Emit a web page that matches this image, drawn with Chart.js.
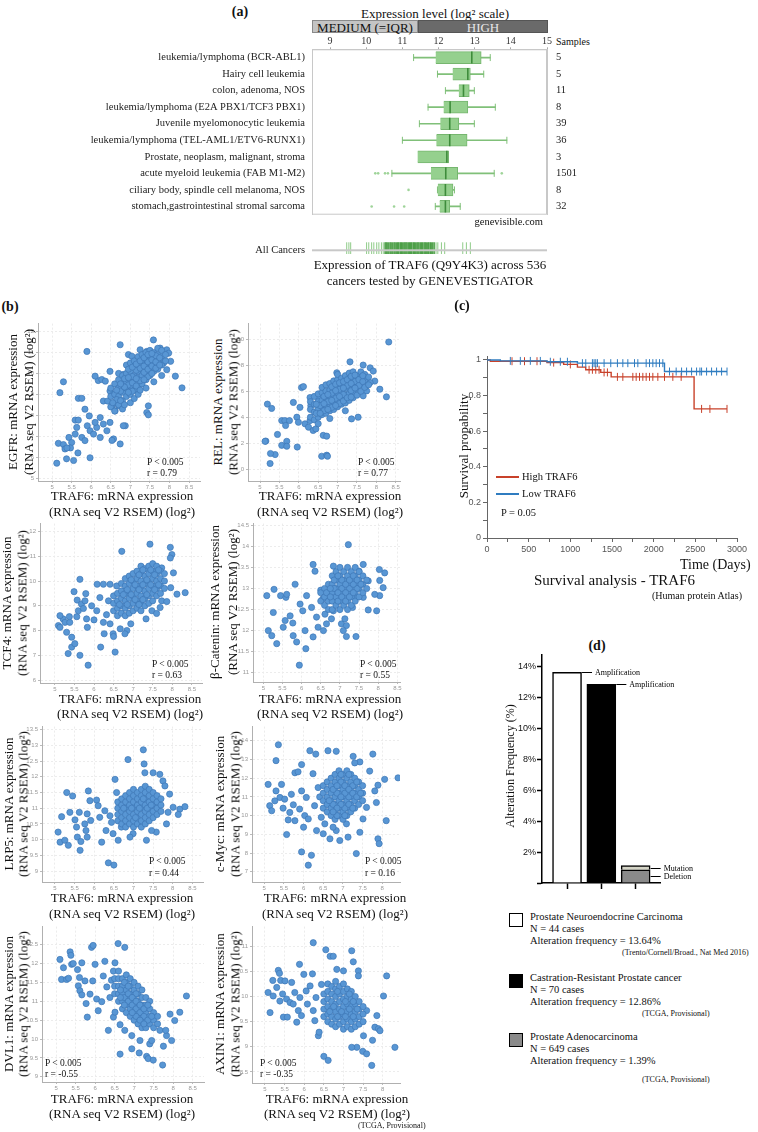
<!DOCTYPE html>
<html>
<head>
<meta charset="utf-8">
<script src="https://cdn.jsdelivr.net/npm/chart.js@4.4.1/dist/chart.umd.min.js"></script>
<style>
body { margin: 0; background: #fff; }
#page { position: relative; width: 758px; height: 1132px; overflow: hidden; font-family: 'Liberation Serif', 'Times New Roman', serif; color: #111; }
.t { position: absolute; white-space: nowrap; line-height: 1; }
canvas { position: absolute; }
.sw { position: absolute; border: 1.5px solid #000; box-sizing: border-box; }
</style>
</head>
<body>
<div id="page"></div>
<script>
// (a) expression by cancer type (log2)
var cancerTypes = ['leukemia/lymphoma (BCR-ABL1)', 'Hairy cell leukemia', 'colon, adenoma, NOS',
  'leukemia/lymphoma (E2A PBX1/TCF3 PBX1)', 'Juvenile myelomonocytic leukemia',
  'leukemia/lymphoma (TEL-AML1/ETV6-RUNX1)', 'Prostate, neoplasm, malignant, stroma',
  'acute myeloid leukemia (FAB M1-M2)', 'ciliary body, spindle cell melanoma, NOS',
  'stomach,gastrointestinal stromal sarcoma'];
var sampleCounts = [5, 5, 11, 8, 39, 36, 3, 1501, 8, 32];
var boxLow = [11.92, 12.39, 12.56, 12.14, 12.05, 11.94, 11.42, 11.79, 11.98, 12.03];
var boxHigh = [13.18, 12.88, 12.85, 12.81, 12.56, 12.79, 12.28, 12.53, 12.40, 12.31];
var medians = [12.92, 12.81, 12.69, 12.32, 12.31, 12.31, 12.23, 12.20, 12.19, 12.19];
var whiskLow = [11.31, 11.97, 12.19, 11.71, 11.47, 11.00, null, 10.71, 11.97, 11.91];
var whiskHigh = [13.43, 13.25, 12.99, 13.57, 12.99, 13.89, null, 13.54, 12.44, 12.60];
var outliers = [[7, 10.25], [7, 10.33], [7, 10.52], [7, 10.60], [7, 13.75], [8, 11.17], [9, 10.15], [9, 10.77], [9, 11.05]];
var allCancersDense = [10.52, 10.55, 10.58, 10.62, 10.66, 10.69, 10.73, 10.77, 10.8, 10.84, 10.87, 10.9, 10.94, 10.97,
  11.0, 11.04, 11.07, 11.1, 11.13, 11.17, 11.2, 11.23, 11.26, 11.3, 11.33, 11.36, 11.4, 11.43, 11.46, 11.5,
  11.53, 11.56, 11.6, 11.63, 11.66, 11.7, 11.73, 11.77, 11.8, 11.84, 11.88];
var allCancersSparse = [9.46, 9.52, 9.57, 10.01, 10.07, 10.15, 10.21, 10.29, 10.35, 10.42, 10.47, 11.93, 11.98, 12.08, 12.17, 12.67, 12.77, 12.88];

// (b) TRAF6 (x) vs gene (y), log2 RSEM
var egfrPts = [[5.16,6.66],[5.29,6.6],[5.33,6.39],[5.29,9.6],[5.2,9.08],[5.12,5.71],[5.37,5.92],[5.55,5.84],[5.66,6.2],[5.43,6.94],
  [5.5,6.7],[5.59,7.1],[5.63,7.42],[5.59,7.77],[5.67,7.77],[5.67,8.81],[5.76,8.81],[5.89,11.05],[5.76,6.94],[5.84,6.79],
  [5.84,8.29],[5.95,7.97],[5.9,7.5],[5.97,7.26],[6.06,7.1],[6.14,7.42],[6.23,6.94],[6.1,7.66],[6.23,7.89],[6.31,7.58],
  [6.4,7.26],[6.48,7.66],[6.18,9.66],[6.1,9.87],[6.27,9.71],[6.36,9.63],[6.31,8.68],[6.42,8.68],[6.48,10.1],[6.48,9.16],
  [6.57,9.0],[6.53,8.45],[6.61,8.21],[6.7,8.45],[6.74,6.63],[6.57,6.87],[6.74,11.37],[6.87,7.5],[6.82,9.95],[6.95,10.9],
  [7.04,10.82],[7.25,11.13],[7.42,11.05],[7.59,11.6],[7.76,11.21],[7.93,11.13],[7.98,10.97],[8.03,10.58],[7.85,10.5],[7.93,10.18],
  [8.15,9.87],[8.32,9.31],[7.42,8.13],[7.46,8.02],[7.46,8.45],[6.82,7.5],[5.47,6.44],[5.38,6.44],[6.53,6.8],[5.97,5.97],
  [6.5,8.4],[6.5,8.9],[6.5,9.3],[6.6,8.2],[6.6,8.6],[6.6,9.0],[6.6,9.5],[6.7,8.5],[6.7,8.9],[6.7,9.3],[6.7,9.7],[6.7,10.0],
  [6.8,8.3],[6.8,8.7],[6.8,9.1],[6.8,9.5],[6.8,9.9],[6.9,8.9],[6.9,9.3],[6.9,9.6],[6.9,10.0],[6.9,10.4],
  [7.0,8.6],[7.0,9.0],[7.0,9.4],[7.0,9.7],[7.0,10.1],[7.0,10.5],[7.1,8.8],[7.1,9.2],[7.1,9.6],[7.1,9.9],[7.1,10.3],[7.1,10.6],
  [7.2,9.0],[7.2,9.4],[7.2,9.8],[7.2,10.1],[7.2,10.4],[7.2,10.8],[7.3,9.5],[7.3,9.9],[7.3,10.2],[7.3,10.6],[7.3,10.9],
  [7.4,9.3],[7.4,9.7],[7.4,10.0],[7.4,10.4],[7.4,10.7],[7.4,11.0],[7.5,9.9],[7.5,10.2],[7.5,10.5],[7.5,10.8],[7.5,11.1],
  [7.6,9.6],[7.6,10.1],[7.6,10.4],[7.6,10.7],[7.6,11.0],[7.7,10.2],[7.7,10.6],[7.7,10.9],[7.7,11.2],[7.8,9.9],[7.8,10.4],
  [7.8,10.8],[7.8,11.1],[7.9,10.6],[7.9,10.9],[6.65,8.75],[6.75,9.15],[6.85,9.75],[6.95,9.45],[7.05,9.85],[7.15,10.15],
  [7.25,10.25],[7.35,10.35],[7.45,10.55],[7.55,10.65],[7.65,10.85],[7.05,9.15],[7.25,9.65],[7.45,9.85],[6.85,9.35],
  [6.75,8.7],[6.75,9.5],[6.85,8.5],[6.95,9.8],[6.95,10.2],[7.05,9.55],[7.05,10.3],[7.15,9.4],[7.15,9.75],[7.15,10.45],
  [7.25,9.2],[7.25,10.6],[7.35,9.7],[7.35,10.05],[7.35,10.75],[7.45,10.2],[7.45,10.9],[7.55,10.0],[7.55,10.35],[7.55,10.95],
  [7.65,10.25],[7.65,10.55],[7.75,10.4],[7.75,10.75],[6.95,9.1],[6.65,9.2],[6.55,8.6]];
var relPts = [[5.19,5.01],[5.3,4.68],[5.15,2.16],[5.39,1.12],[5.26,0.43],[5.56,3.74],[5.64,3.74],[5.76,3.74],[5.66,3.36],[5.45,2.67],
  [5.56,1.83],[5.69,2.14],[5.96,1.7],[5.86,5.14],[6.07,6.29],[6.12,6.36],[6.03,4.76],[5.95,4.0],[5.99,3.61],[6.16,3.49],
  [6.25,3.23],[6.29,3.74],[6.37,2.98],[6.44,3.1],[6.59,0.99],[6.72,1.07],[6.63,2.6],[6.72,2.54],[6.5,5.52],[6.29,5.52],
  [6.31,4.89],[6.98,7.43],[7.32,8.27],[7.66,8.02],[7.84,7.81],[7.92,7.56],[7.96,6.79],[8.09,6.16],[7.84,6.67],[7.75,6.03],
  [7.66,5.65],[8.32,9.8],[8.26,5.57],[7.53,4.0],[7.36,3.87],[5.13,2.14],[5.27,1.2],[5.69,1.76],[6.74,0.99],
  [6.3,4.0],[6.3,4.6],[6.3,5.2],[6.4,3.8],[6.4,4.4],[6.4,5.0],[6.4,5.6],[6.5,3.5],[6.5,4.0],[6.5,4.6],[6.5,5.2],[6.5,5.8],
  [6.6,4.2],[6.6,4.8],[6.6,5.3],[6.6,5.9],[6.6,6.3],[6.7,4.3],[6.7,4.9],[6.7,5.5],[6.7,6.0],[6.7,6.5],
  [6.8,3.9],[6.8,4.5],[6.8,5.0],[6.8,5.6],[6.8,6.1],[6.8,6.6],[6.9,4.6],[6.9,5.2],[6.9,5.7],[6.9,6.3],[6.9,6.8],
  [7.0,4.8],[7.0,5.3],[7.0,5.9],[7.0,6.4],[7.0,6.9],[7.0,7.3],[7.1,5.0],[7.1,5.5],[7.1,6.0],[7.1,6.5],[7.1,7.0],
  [7.2,4.5],[7.2,5.1],[7.2,5.7],[7.2,6.2],[7.2,6.7],[7.2,7.2],[7.3,5.3],[7.3,5.8],[7.3,6.3],[7.3,6.9],[7.3,7.4],
  [7.4,5.5],[7.4,6.0],[7.4,6.5],[7.4,7.0],[7.4,7.5],[7.5,5.7],[7.5,6.2],[7.5,6.7],[7.5,7.2],[7.6,6.0],[7.6,6.5],[7.6,7.0],[7.6,7.5],
  [7.7,6.3],[7.7,6.8],[7.7,7.3],[7.8,6.5],[7.8,7.1],[6.45,4.3],[6.55,4.9],[6.65,5.6],[6.75,5.2],[6.85,5.85],[6.95,5.45],
  [7.05,6.15],[7.15,5.75],[7.25,6.45],[7.35,6.05],[7.45,6.75],[7.55,6.45],[6.85,4.75],[7.05,5.05],[6.65,4.5],
  [6.45,5.0],[6.55,4.3],[6.65,5.05],[6.75,4.6],[6.75,5.75],[6.85,5.3],[6.85,6.35],[6.95,4.9],[6.95,6.05],[6.95,6.55],
  [7.05,5.6],[7.05,6.65],[7.15,5.25],[7.15,6.25],[7.15,6.75],[7.25,5.5],[7.25,6.9],[7.35,5.55],[7.35,6.6],[7.35,7.15],
  [7.45,6.25],[7.45,7.25],[7.55,6.9],[7.65,6.75],[7.65,7.2]];
var tcf4Pts = [[5.09,8.2],[5.13,8.13],[5.21,8.47],[5.26,8.33],[5.13,8.6],[5.34,7.07],[5.3,7.93],[5.43,7.73],[5.43,7.33],[5.51,7.47],
  [5.38,8.33],[5.37,8.56],[5.49,9.57],[5.57,9.23],[5.56,8.56],[5.64,7.0],[5.64,10.07],[5.6,8.8],[5.68,9.07],[5.73,8.89],
  [5.81,8.47],[5.83,8.13],[5.77,9.2],[5.79,9.49],[5.85,6.6],[5.94,9.0],[6.0,8.43],[6.07,8.8],[6.15,9.33],[6.17,7.33],
  [6.24,8.33],[6.26,7.87],[6.08,9.87],[6.37,9.2],[6.32,8.64],[6.41,8.27],[6.49,7.87],[6.5,7.76],[6.54,7.13],[6.67,8.07],
  [6.71,11.2],[6.58,9.8],[6.41,9.87],[6.24,9.87],[6.84,8.0],[6.79,7.87],[6.94,8.27],[7.33,8.47],[7.48,8.8],[7.6,8.69],
  [7.69,8.93],[7.73,9.2],[7.95,11.36],[7.99,11.07],[7.95,10.93],[7.43,11.49],[7.73,10.53],[8.03,10.33],[8.12,9.47],[8.33,9.53],
  [7.96,9.73],[7.86,9.17],
  [6.5,8.8],[6.5,9.1],[6.5,9.4],[6.6,8.6],[6.6,8.9],[6.6,9.2],[6.6,9.5],[6.7,8.7],[6.7,9.0],[6.7,9.3],[6.7,9.6],[6.7,9.9],
  [6.8,8.6],[6.8,8.9],[6.8,9.2],[6.8,9.5],[6.8,9.8],[6.8,10.1],[6.9,8.7],[6.9,9.0],[6.9,9.3],[6.9,9.6],[6.9,9.9],[6.9,10.2],
  [7.0,8.8],[7.0,9.1],[7.0,9.4],[7.0,9.7],[7.0,10.0],[7.0,10.3],[7.1,8.9],[7.1,9.2],[7.1,9.5],[7.1,9.8],[7.1,10.1],[7.1,10.4],
  [7.2,8.8],[7.2,9.1],[7.2,9.4],[7.2,9.7],[7.2,10.0],[7.2,10.3],[7.2,10.6],[7.3,9.0],[7.3,9.3],[7.3,9.6],[7.3,9.9],[7.3,10.2],[7.3,10.5],
  [7.4,9.1],[7.4,9.4],[7.4,9.7],[7.4,10.0],[7.4,10.3],[7.4,10.6],[7.5,9.2],[7.5,9.5],[7.5,9.8],[7.5,10.1],[7.5,10.4],[7.5,10.7],
  [7.6,9.4],[7.6,9.7],[7.6,10.0],[7.6,10.3],[7.6,10.6],[7.7,9.5],[7.7,9.8],[7.7,10.1],[7.7,10.4],[7.8,9.7],[7.8,10.0],[7.8,10.3],
  [6.65,9.05],[6.75,9.45],[6.85,9.05],[6.85,9.65],[6.95,9.45],[6.95,10.05],[7.05,9.25],[7.05,9.85],[7.15,9.05],[7.15,9.65],
  [7.15,10.25],[7.25,9.25],[7.25,9.85],[7.25,10.45],[7.35,9.45],[7.35,10.05],[7.45,9.85],[7.45,10.45],[7.55,9.65],[7.55,10.25],
  [7.65,9.85],[7.65,10.45]];
var ctnnbPts = [[5.09,12.83],[5.13,12.0],[5.22,11.88],[5.35,11.69],[5.26,12.43],[5.28,12.98],[5.45,12.83],[5.52,12.08],[5.57,12.24],[5.59,12.79],
  [5.61,12.86],[5.7,12.35],[5.77,12.18],[5.78,11.88],[5.83,13.1],[5.87,11.73],[5.94,11.18],[5.96,12.63],[6.03,12.47],[6.09,12.0],
  [6.11,11.57],[6.13,12.83],[6.26,12.55],[6.3,11.85],[6.3,13.57],[6.35,13.41],[6.39,12.32],[6.43,12.08],[6.5,12.96],[6.55,12.75],
  [6.57,12.0],[6.61,12.39],[6.65,12.16],[6.78,12.28],[6.74,12.71],[6.83,12.47],[7.04,12.16],[7.13,12.28],[7.17,12.12],[7.09,12.0],
  [7.17,11.86],[7.42,11.86],[7.33,12.55],[7.43,12.79],[7.74,12.49],[7.61,12.79],[7.96,12.47],[8.04,12.83],[8.04,13.19],[8.13,13.02],
  [8.17,13.37],[8.03,13.45],[7.22,14.04],[7.5,13.41],[7.61,13.57],[7.74,13.18],[7.91,12.86],[6.83,13.53],
  [6.5,12.7],[6.5,12.9],[6.6,12.6],[6.6,12.8],[6.6,13.0],[6.7,12.5],[6.7,12.7],[6.7,12.9],[6.7,13.1],
  [6.8,12.5],[6.8,12.7],[6.8,12.9],[6.8,13.1],[6.8,13.3],[6.9,12.6],[6.9,12.8],[6.9,13.0],[6.9,13.2],[6.9,13.4],
  [7.0,12.5],[7.0,12.7],[7.0,12.9],[7.0,13.1],[7.0,13.3],[7.0,13.5],[7.1,12.6],[7.1,12.8],[7.1,13.0],[7.1,13.2],[7.1,13.4],
  [7.2,12.5],[7.2,12.7],[7.2,12.9],[7.2,13.1],[7.2,13.3],[7.2,13.5],[7.3,12.6],[7.3,12.8],[7.3,13.0],[7.3,13.2],[7.3,13.4],
  [7.4,12.7],[7.4,12.9],[7.4,13.1],[7.4,13.3],[7.4,13.5],[7.5,12.8],[7.5,13.0],[7.5,13.2],[7.5,13.4],[7.6,12.9],[7.6,13.1],[7.6,13.3],
  [7.7,13.0],[7.7,13.2],[6.65,12.9],[6.85,13.0],[7.05,13.0],[7.25,13.0],[7.45,13.0],[6.95,12.7],[7.15,12.9],[7.35,13.1],
  [6.75,12.8],[6.85,13.2],[6.95,12.9],[7.05,12.8],[7.05,13.2],[7.15,12.7],[7.15,13.1],[7.25,12.8],[7.25,13.2],[7.35,12.9],
  [7.35,13.3],[7.45,13.2],[7.55,13.1],[6.75,13.0],[6.95,13.3]];
var lrp5Pts = [[5.08,10.24],[5.13,9.92],[5.17,10.73],[5.25,9.98],[5.3,11.5],[5.34,9.82],[5.38,10.87],[5.45,11.39],[5.51,10.63],[5.55,10.4],
  [5.57,10.08],[5.62,10.87],[5.66,9.94],[5.64,9.66],[5.76,10.5],[5.79,10.29],[5.82,10.08],[5.85,11.55],[5.89,11.24],[5.91,10.61],
  [5.82,10.82],[6.06,11.26],[6.1,11.08],[6.14,10.71],[6.19,9.92],[6.27,10.92],[6.3,10.29],[6.4,10.76],[6.44,10.55],[6.48,10.19],
  [6.53,11.92],[6.36,9.26],[6.5,9.19],[6.61,9.98],[6.69,10.4],[6.86,12.55],[6.57,11.5],[7.25,12.86],[7.27,12.41],[7.29,12.13],
  [7.5,12.13],[7.67,12.08],[7.75,11.87],[7.8,11.71],[7.92,11.45],[8.01,11.03],[8.18,10.97],[8.31,11.05],[8.14,10.8],[7.88,10.87],
  [7.84,10.5],[7.58,10.24],[7.46,10.29],[7.33,9.98],[6.99,10.19],[6.91,10.08],
  [6.6,10.6],[6.6,10.8],[6.6,11.0],[6.6,11.2],[6.7,10.5],[6.7,10.7],[6.7,10.9],[6.7,11.1],[6.7,11.3],
  [6.8,10.4],[6.8,10.6],[6.8,10.8],[6.8,11.0],[6.8,11.2],[6.8,11.4],[6.9,10.5],[6.9,10.7],[6.9,10.9],[6.9,11.1],[6.9,11.3],[6.9,11.5],
  [7.0,10.4],[7.0,10.6],[7.0,10.8],[7.0,11.0],[7.0,11.2],[7.0,11.4],[7.0,11.6],[7.1,10.5],[7.1,10.7],[7.1,10.9],[7.1,11.1],[7.1,11.3],[7.1,11.5],
  [7.2,10.4],[7.2,10.6],[7.2,10.8],[7.2,11.0],[7.2,11.2],[7.2,11.4],[7.2,11.6],[7.3,10.5],[7.3,10.7],[7.3,10.9],[7.3,11.1],[7.3,11.3],[7.3,11.5],[7.3,11.7],
  [7.4,10.6],[7.4,10.8],[7.4,11.0],[7.4,11.2],[7.4,11.4],[7.4,11.6],[7.5,10.7],[7.5,10.9],[7.5,11.1],[7.5,11.3],[7.5,11.5],
  [7.6,10.8],[7.6,11.0],[7.6,11.2],[7.6,11.4],[7.7,10.9],[7.7,11.1],[7.7,11.3],
  [6.75,11.0],[6.95,11.0],[7.15,11.0],[7.35,11.0],[7.05,10.7],[7.25,11.3],[7.45,11.1]];
var mycPts = [[5.1,11.67],[5.14,10.53],[5.19,10.26],[5.27,10.79],[5.3,11.32],[5.36,13.79],[5.3,12.94],[5.44,11.67],[5.4,10.97],[5.48,10.4],
  [5.52,10.88],[5.57,8.99],[5.61,9.77],[5.65,10.17],[5.69,11.14],[5.74,10.58],[5.78,9.73],[5.78,12.29],[5.86,12.34],[5.9,10.35],
  [5.95,12.73],[5.95,11.32],[6.0,9.38],[5.95,8.06],[6.03,10.0],[6.07,10.97],[6.12,9.82],[6.16,13.47],[6.2,7.88],[6.24,12.24],
  [6.28,10.53],[6.31,13.29],[6.33,9.2],[6.37,11.5],[6.12,7.35],[6.41,11.0],[6.45,9.91],[6.5,9.03],[6.54,9.56],[6.62,13.47],
  [6.62,10.61],[6.67,8.76],[6.83,13.44],[6.92,8.67],[6.83,9.2],[7.13,8.85],[7.26,13.17],[7.43,12.87],[7.3,12.82],[7.34,7.97],
  [7.43,9.11],[7.68,12.38],[7.76,13.29],[7.81,11.32],[7.89,11.63],[7.89,8.76],[7.92,8.5],[8.06,11.94],[8.1,9.73],[8.4,12.02],
  [7.85,10.7],[7.6,10.44],[7.51,9.82],[6.75,9.38],[7.09,9.56],
  [6.5,10.4],[6.5,10.8],[6.5,11.2],[6.5,11.6],[6.6,10.2],[6.6,10.6],[6.6,11.0],[6.6,11.4],[6.6,11.8],
  [6.7,10.0],[6.7,10.4],[6.7,10.8],[6.7,11.2],[6.7,11.6],[6.7,12.0],[6.8,9.8],[6.8,10.2],[6.8,10.6],[6.8,11.0],[6.8,11.4],[6.8,11.8],[6.8,12.2],
  [6.9,10.0],[6.9,10.4],[6.9,10.8],[6.9,11.2],[6.9,11.6],[6.9,12.0],[6.9,12.4],[7.0,9.8],[7.0,10.2],[7.0,10.6],[7.0,11.0],[7.0,11.4],[7.0,11.8],[7.0,12.2],
  [7.1,10.0],[7.1,10.4],[7.1,10.8],[7.1,11.2],[7.1,11.6],[7.1,12.0],[7.1,12.4],[7.2,10.2],[7.2,10.6],[7.2,11.0],[7.2,11.4],[7.2,11.8],[7.2,12.2],
  [7.3,10.4],[7.3,10.8],[7.3,11.2],[7.3,11.6],[7.3,12.0],[7.4,10.6],[7.4,11.0],[7.4,11.4],[7.4,11.8],[7.5,10.8],[7.5,11.2],[7.5,11.6],
  [6.75,10.6],[6.85,11.2],[6.95,11.8],[7.05,10.4],[7.15,11.0],[7.25,11.6],[6.95,10.6],[7.05,11.2],[6.85,10.0],[7.15,12.2],
  [6.65,10.8],[6.75,11.4],[6.85,10.4],[6.85,11.6],[6.95,11.0],[6.95,12.2],[7.05,10.0],[7.05,11.6],[7.15,10.6],[7.15,11.4],
  [7.25,10.4],[7.25,11.2],[7.35,11.0],[7.35,11.8],[6.75,10.2],[7.45,11.2]];
var dvl1Pts = [[5.1,12.11],[5.14,11.58],[5.19,11.89],[5.27,11.58],[5.32,11.61],[5.36,12.31],[5.38,12.22],[5.4,11.98],[5.44,12.0],[5.55,11.84],
  [5.57,11.41],[5.61,11.28],[5.66,12.02],[5.66,11.17],[5.6,11.63],[5.74,11.54],[5.8,10.58],[5.77,10.94],[5.87,11.19],[5.91,12.43],
  [5.95,12.48],[6.0,11.98],[5.94,11.54],[6.04,11.06],[6.08,10.75],[6.17,10.99],[6.21,11.67],[6.25,12.06],[6.3,11.38],[6.38,11.1],
  [6.42,11.56],[6.47,11.8],[6.51,12.02],[6.59,12.53],[6.76,12.43],[6.34,10.23],[6.47,10.58],[6.51,10.71],[6.64,9.6],[6.64,10.38],
  [6.76,10.23],[6.94,10.09],[7.15,9.96],[7.13,9.63],[7.32,9.54],[7.36,9.48],[7.49,9.44],[7.4,9.87],[7.45,9.96],[7.73,9.31],
  [7.75,9.81],[7.66,10.23],[7.83,10.09],[7.96,9.96],[7.92,10.66],[8.17,10.71],[8.34,11.14],[8.04,10.49],[7.81,10.23],[6.94,9.74],
  [6.5,11.2],[6.5,11.4],[6.5,11.6],[6.6,11.0],[6.6,11.2],[6.6,11.4],[6.6,11.6],[6.6,11.8],[6.7,10.8],[6.7,11.0],[6.7,11.2],[6.7,11.4],[6.7,11.6],
  [6.8,10.7],[6.8,10.9],[6.8,11.1],[6.8,11.3],[6.8,11.5],[6.8,11.7],[6.9,10.6],[6.9,10.8],[6.9,11.0],[6.9,11.2],[6.9,11.4],[6.9,11.6],
  [7.0,10.5],[7.0,10.7],[7.0,10.9],[7.0,11.1],[7.0,11.3],[7.0,11.5],[7.1,10.4],[7.1,10.6],[7.1,10.8],[7.1,11.0],[7.1,11.2],[7.1,11.4],
  [7.2,10.3],[7.2,10.5],[7.2,10.7],[7.2,10.9],[7.2,11.1],[7.2,11.3],[7.3,10.3],[7.3,10.5],[7.3,10.7],[7.3,10.9],[7.3,11.1],
  [7.4,10.4],[7.4,10.6],[7.4,10.8],[7.4,11.0],[7.5,10.3],[7.5,10.5],[7.5,10.7],[7.6,10.4],[7.6,10.6],
  [6.65,11.3],[6.75,11.1],[6.85,11.0],[6.95,10.9],[7.05,10.8],[7.15,10.7],[7.25,10.6],[7.35,10.5],[6.75,11.5],[7.05,11.2],
  [6.65,11.1],[6.75,10.9],[6.85,11.2],[6.95,11.1],[7.05,10.6],[7.05,11.0],[7.15,10.5],[7.15,10.9],[7.25,10.4],[7.25,10.8],
  [7.35,10.9],[7.45,10.6],[6.85,11.4],[6.95,10.7]];
var axin1Pts = [[5.08,10.08],[5.13,9.68],[5.2,10.32],[5.21,10.01],[5.3,10.18],[5.34,10.52],[5.37,10.46],[5.4,10.32],[5.38,9.91],[5.45,10.05],
  [5.47,9.59],[5.51,10.31],[5.55,9.95],[5.57,9.59],[5.64,9.88],[5.68,10.28],[5.72,9.85],[5.76,10.08],[5.81,9.49],[5.85,9.72],
  [5.89,9.98],[5.88,10.64],[5.93,9.62],[5.99,10.44],[6.05,10.11],[6.08,9.85],[6.15,10.21],[6.21,10.45],[6.23,9.72],[6.27,9.52],
  [6.3,9.98],[6.36,9.22],[6.38,9.29],[6.44,10.24],[6.5,8.81],[6.61,8.73],[6.23,11.07],[6.55,10.93],[6.66,10.8],[6.74,10.8],
  [6.83,10.54],[7.0,10.51],[7.21,10.91],[7.25,10.69],[7.38,10.51],[7.34,8.99],[7.21,8.99],[7.51,9.22],[7.49,8.91],[7.59,8.86],
  [7.72,8.63],[7.74,9.13],[7.8,9.39],[7.89,9.36],[7.93,9.32],[8.02,10.01],[8.1,10.41],[8.31,8.99],[7.85,9.62],[7.59,9.72],[7.38,10.41],
  [6.5,9.6],[6.5,9.75],[6.5,9.9],[6.5,10.05],[6.6,9.5],[6.6,9.65],[6.6,9.8],[6.6,9.95],[6.6,10.1],[6.6,10.25],
  [6.7,9.45],[6.7,9.6],[6.7,9.75],[6.7,9.9],[6.7,10.05],[6.7,10.2],[6.8,9.4],[6.8,9.55],[6.8,9.7],[6.8,9.85],[6.8,10.0],[6.8,10.15],[6.8,10.3],
  [6.9,9.45],[6.9,9.6],[6.9,9.75],[6.9,9.9],[6.9,10.05],[6.9,10.2],[7.0,9.35],[7.0,9.5],[7.0,9.65],[7.0,9.8],[7.0,9.95],[7.0,10.1],[7.0,10.25],
  [7.1,9.4],[7.1,9.55],[7.1,9.7],[7.1,9.85],[7.1,10.0],[7.1,10.15],[7.2,9.35],[7.2,9.5],[7.2,9.65],[7.2,9.8],[7.2,9.95],[7.2,10.1],
  [7.3,9.4],[7.3,9.55],[7.3,9.7],[7.3,9.85],[7.3,10.0],[7.4,9.45],[7.4,9.6],[7.4,9.75],[7.4,9.9],[7.5,9.5],[7.5,9.65],[7.5,9.8],
  [6.65,9.7],[6.75,9.8],[6.85,9.6],[6.95,9.7],[7.05,9.6],[7.05,9.9],[7.15,9.75],[7.25,9.6],[7.25,9.9],[7.35,9.75],[6.85,10.1],[7.15,10.05]];

// (c) Kaplan-Meier, days vs survival
var highDays = [0, 40, 720, 920, 1085, 1185, 1365, 1490, 2485, 2880];
var highSurv = [1, 0.993, 0.985, 0.975, 0.96, 0.945, 0.93, 0.905, 0.725, 0.725];
var lowDays = [0, 160, 720, 1085, 2130, 2880];
var lowSurv = [1, 0.995, 0.99, 0.982, 0.935, 0.935];
var highCensored = [[300,0.993],[450,0.993],[600,0.993],[800,0.985],[1000,0.975],[1225,0.945],[1265,0.945],[1305,0.945],[1345,0.945],
  [1405,0.93],[1445,0.93],[1565,0.905],[1630,0.905],[1750,0.905],[1790,0.905],[1830,0.905],[1870,0.905],[1910,0.905],[1950,0.905],
  [1990,0.905],[2050,0.905],[2130,0.905],[2230,0.905],[2330,0.905],[2575,0.725],[2675,0.725],[2880,0.725]];
var lowCensored = [[280,0.995],[400,0.995],[520,0.995],[640,0.995],[760,0.99],[880,0.99],[965,0.99],[1145,0.982],[1185,0.982],
  [1265,0.982],[1285,0.982],[1305,0.982],[1325,0.982],[1405,0.982],[1485,0.982],[1565,0.982],[1630,0.982],[1690,0.982],[1770,0.982],
  [1810,0.982],[1910,0.982],[1950,0.982],[1990,0.982],[2030,0.982],[2070,0.982],[2110,0.982],[2190,0.935],[2270,0.935],[2335,0.935],
  [2395,0.935],[2455,0.935],[2515,0.935],[2555,0.935],[2575,0.935],[2635,0.935],[2695,0.935],[2755,0.935],[2815,0.935],[2880,0.935]];

// (d) alteration frequency (%)
var amplification = [13.64, 12.86];
var adenoDeletion = 0.85;
var adenoMutation = 0.27;

Chart.defaults.animation = false;
Chart.defaults.responsive = false;
Chart.defaults.font.family = "'Liberation Serif', 'Times New Roman', serif";
Chart.defaults.plugins.legend.display = false;
Chart.defaults.plugins.tooltip.enabled = false;

var page = document.getElementById('page');

function label(s, x, y, size, opts) {
  opts = opts || {};
  var d = document.createElement('div');
  d.className = 't';
  d.textContent = s;
  d.style.left = x + 'px';
  d.style.top = y + 'px';
  d.style.fontSize = size + 'px';
  if (opts.bold) d.style.fontWeight = 'bold';
  if (opts.color) d.style.color = opts.color;
  var tx = opts.align === 'l' ? '0' : opts.align === 'r' ? '-100%' : '-50%';
  d.style.transform = 'translate(' + tx + ',-50%)' + (opts.rot ? ' rotate(-90deg)' : '');
  page.appendChild(d);
  return d;
}

function box(x, y, w, h, css) {
  var d = document.createElement('div');
  d.style.position = 'absolute';
  d.style.left = x + 'px'; d.style.top = y + 'px';
  d.style.width = w + 'px'; d.style.height = h + 'px';
  for (var k in css) d.style[k] = css[k];
  page.appendChild(d);
  return d;
}

function canvasAt(x, y, w, h) {
  var c = document.createElement('canvas');
  c.width = w; c.height = h;
  c.style.left = x + 'px'; c.style.top = y + 'px';
  c.style.width = w + 'px'; c.style.height = h + 'px';
  page.appendChild(c);
  return c.getContext('2d');
}

var frame = {
  id: 'frame',
  afterDraw: function (chart) {
    var a = chart.chartArea, c = chart.ctx;
    c.save();
    c.strokeStyle = '#c8c8c8';
    c.lineWidth = 1;
    c.strokeRect(a.left + 0.5, a.top + 0.5, a.right - a.left - 1, a.bottom - a.top - 1);
    c.restore();
  }
};

// ---------- (a) ----------
label('(a)', 240, 12, 14, {bold: true});
label('Expression level (log² scale)', 435, 13, 13);
box(312, 20, 106, 13, {background: '#c4c4c4', border: '1px solid #8a8a8a', boxSizing: 'border-box'});
box(418, 20, 130, 13, {background: '#6a6a6a', border: '1px solid #555', boxSizing: 'border-box'});
label('MEDIUM (=IQR)', 365, 27, 13);
label('HIGH', 483, 27, 13, {color: '#e8e8e8'});
label('Samples', 556, 42, 10, {align: 'l'});

var caps = [];
whiskLow.forEach(function (v, i) {
  if (v !== null) {
    caps.push({x: v, y: cancerTypes[i]});
    caps.push({x: whiskHigh[i], y: cancerTypes[i]});
  }
});

var ctxA = canvasAt(52, 34, 531, 196);
new Chart(ctxA, {
  type: 'bar',
  data: {
    labels: cancerTypes,
    datasets: [{
      type: 'scatter', order: 1,
      data: medians.map(function (m, i) { return {x: m, y: cancerTypes[i]}; }),
      pointStyle: 'line', pointRotation: 90, pointRadius: 6,
      pointBorderColor: '#3e8c3b', pointBorderWidth: 1.6
    }, {
      type: 'scatter', order: 2, data: caps,
      pointStyle: 'line', pointRotation: 90, pointRadius: 3.5,
      pointBorderColor: '#80c079', pointBorderWidth: 1
    }, {
      type: 'scatter', order: 2,
      data: outliers.map(function (o) { return {x: o[1], y: cancerTypes[o[0]]}; }),
      pointRadius: 1.3, pointBackgroundColor: '#9fd499', pointBorderWidth: 0
    }, {
      type: 'bar', order: 3, indexAxis: 'y', grouped: false,
      data: boxLow.map(function (v, i) { return [v, boxHigh[i]]; }),
      backgroundColor: '#95d08e', borderColor: '#76b66f', borderWidth: 1, barThickness: 12
    }, {
      type: 'bar', order: 4, indexAxis: 'y', grouped: false,
      data: whiskLow.map(function (v, i) { return v === null ? null : [v, whiskHigh[i]]; }),
      backgroundColor: '#80c079', barThickness: 1
    }]
  },
  options: {
    indexAxis: 'y',
    layout: {padding: 0},
    scales: {
      x: {type: 'linear', position: 'top', min: 8.5, max: 15, offset: false,
        afterFit: function (s) { s.height = 14; },
        ticks: {stepSize: 1, includeBounds: false, color: '#333', font: {size: 10}, padding: 0},
        grid: {drawOnChartArea: false, tickLength: 2, tickColor: '#aaa'},
        border: {color: '#c8c8c8'}},
      y: {type: 'category', offset: true,
        afterFit: function (s) { s.width = 260; },
        ticks: {autoSkip: false, color: '#222', font: {size: 10.5}, padding: 7},
        grid: {display: false, drawTicks: false}, border: {color: '#c8c8c8'}},
      y2: {type: 'category', position: 'right', offset: true, labels: sampleCounts.map(String),
        afterFit: function (s) { s.width = 36; },
        ticks: {autoSkip: false, color: '#222', font: {size: 10.5}, padding: 9},
        grid: {display: false, drawTicks: false}, border: {color: '#c8c8c8'}}
    }
  },
  plugins: [frame]
});
label('genevisible.com', 543, 222, 10.5, {align: 'r'});

var ctxAll = canvasAt(52, 237, 531, 17);
new Chart(ctxAll, {
  type: 'scatter',
  data: {
    labels: ['All Cancers'],
    datasets: [{
      data: allCancersDense.map(function (v) { return {x: v, y: 'All Cancers'}; }),
      pointStyle: 'line', pointRotation: 90, pointRadius: 8,
      pointBorderColor: 'rgba(56,148,50,0.85)', pointBorderWidth: 1.5
    }, {
      data: allCancersSparse.map(function (v) { return {x: v, y: 'All Cancers'}; }),
      pointStyle: 'line', pointRotation: 90, pointRadius: 8,
      pointBorderColor: '#8fcc88', pointBorderWidth: 1
    }]
  },
  options: {
    layout: {padding: {right: 36}},
    scales: {
      x: {type: 'linear', min: 8.5, max: 15, display: false},
      y: {type: 'category', labels: ['All Cancers'], offset: true,
        afterFit: function (s) { s.width = 260; },
        ticks: {color: '#222', font: {size: 10.5}, padding: 7},
        grid: {display: false, drawTicks: false}, border: {color: '#c8c8c8'}}
    }
  },
  plugins: [frame]
});
label('Expression of TRAF6 (Q9Y4K3) across 536', 430, 264, 13);
label('cancers tested by GENEVESTIGATOR', 430, 280, 13);

// ---------- (b) ----------
label('(b)', 10, 307, 14, {bold: true});

var scatterPanels = [
  {pts: egfrPts, gene: 'EGFR', r: 'r = 0.79', area: [38, 322, 200, 481], xr: [4.64, 8.78], yr: [4.86, 12.38], step: 1,
    yt: [12, 27.5], xt: [122, 495, 511], pv: [147, 463, 474]},
  {pts: relPts, gene: 'REL', r: 'r = 0.77', area: [248, 322, 400, 481], xr: [4.69, 8.61], yr: [-0.92, 11.22], step: 2,
    yt: [217, 233], xt: [330, 495, 511], pv: [358, 463, 474]},
  {pts: tcf4Pts, gene: 'TCF4', r: 'r = 0.63', area: [40, 522, 202, 683], xr: [4.62, 8.76], yr: [5.88, 12.32], step: 1,
    yt: [6, 21.7], xt: [130, 698, 713], pv: [152, 665, 676]},
  {pts: ctnnbPts, gene: 'β-Catenin', r: 'r = 0.55', area: [253, 522, 400, 682], xr: [4.73, 8.57], yr: [10.78, 14.54], step: 0.5,
    yt: [214, 232], xt: [330, 698, 713], pv: [360, 665, 676]},
  {pts: lrp5Pts, gene: 'LRP5', r: 'r = 0.44', area: [42, 725, 203, 882], xr: [4.67, 8.77], yr: [8.65, 13.6], step: 0.5,
    yt: [7.5, 23], xt: [122, 897, 913], pv: [149, 862, 874]},
  {pts: mycPts, gene: 'c-Myc', r: 'r = 0.16', area: [252, 725, 400, 882], xr: [4.69, 8.45], yr: [6.45, 14.76], step: 1,
    yt: [219, 235], xt: [335, 897, 913], pv: [365, 862, 874]},
  {pts: dvl1Pts, gene: 'DVL1', r: 'r = -0.55', area: [42, 925, 204, 1082], xr: [4.64, 8.79], yr: [8.86, 12.98], step: 0.5,
    yt: [7.5, 23], xt: [122, 1098, 1113], pv: [45, 1064, 1075]},
  {pts: axin1Pts, gene: 'AXIN1', r: 'r = -0.35', area: [252, 925, 400, 1083], xr: [4.67, 8.44], yr: [8.28, 11.39], step: 0.5,
    yt: [219, 235], xt: [337, 1098, 1113], pv: [260, 1064, 1075]}
];

var tickFont = {size: 6, family: "'Liberation Sans', Arial, sans-serif"};
function plainNum(v) { return String(v); }

scatterPanels.forEach(function (p) {
  var a = p.area, padL = 22, padT = 4, padR = 6, padB = 12;
  var ctx = canvasAt(a[0] - padL, a[1] - padT, a[2] - a[0] + padL + padR, a[3] - a[1] + padT + padB);
  new Chart(ctx, {
    type: 'scatter',
    data: {
      datasets: [{
        data: p.pts.map(function (q) { return {x: q[0], y: q[1]}; }),
        pointRadius: 3.1,
        pointBackgroundColor: 'rgb(88,150,212)',
        pointBorderColor: '#3d77b6',
        pointBorderWidth: 0.7
      }]
    },
    options: {
      layout: {padding: {left: 0, top: padT, right: padR, bottom: 0}},
      scales: {
        x: {type: 'linear', min: p.xr[0], max: p.xr[1],
          afterFit: function (s) { s.height = padB; },
          ticks: {stepSize: 0.5, includeBounds: false, font: tickFont, color: '#999', padding: 1, maxRotation: 0, autoSkip: false, callback: plainNum},
          grid: {color: '#ececec', tickLength: 2, tickColor: '#bbb'},
          border: {color: '#b0b0b0', dash: [2, 2]}},
        y: {type: 'linear', min: p.yr[0], max: p.yr[1],
          afterFit: function (s) { s.width = padL; },
          ticks: {stepSize: p.step, includeBounds: false, font: tickFont, color: '#999', padding: 2, autoSkip: false, callback: plainNum},
          grid: {color: '#ececec', tickLength: 2, tickColor: '#bbb'},
          border: {color: '#b0b0b0', dash: [2, 2]}}
      }
    }
  });
  var cy = (a[1] + a[3]) / 2;
  label(p.gene + ': mRNA expression', p.yt[0], cy, 13, {rot: true});
  label('(RNA seq V2 RSEM) (log²)', p.yt[1], cy, 13, {rot: true});
  label('TRAF6: mRNA expression', p.xt[0], p.xt[1], 13);
  label('(RNA seq V2 RSEM) (log²)', p.xt[0], p.xt[2], 13);
  label('P < 0.005', p.pv[0], p.pv[1], 9.5, {align: 'l'});
  label(p.r, p.pv[0], p.pv[2], 9.5, {align: 'l'});
});
label('(TCGA, Provisional)', 358, 1126, 8, {align: 'l'});

// ---------- (c) ----------
label('(c)', 462, 306, 14, {bold: true});
var axisFont = {size: 9, family: "'Liberation Sans Narrow', 'Liberation Sans', Arial, sans-serif"};

function toXY(xs, ys) { return xs.map(function (v, i) { return {x: v, y: ys[i]}; }); }
function pairs(list) { return list.map(function (q) { return {x: q[0], y: q[1]}; }); }

var ctxC = canvasAt(461, 349, 290, 209);
new Chart(ctxC, {
  type: 'line',
  data: {
    datasets: [{
      data: pairs(lowCensored), type: 'scatter', order: 1,
      pointStyle: 'line', pointRotation: 90, pointRadius: 4, pointBorderColor: '#2f7cc0', pointBorderWidth: 1
    }, {
      data: toXY(lowDays, lowSurv), order: 2, stepped: true,
      borderColor: '#2f7cc0', borderWidth: 1.4, pointRadius: 0, fill: false
    }, {
      data: pairs(highCensored), type: 'scatter', order: 3,
      pointStyle: 'line', pointRotation: 90, pointRadius: 4, pointBorderColor: '#c8412a', pointBorderWidth: 1
    }, {
      data: toXY(highDays, highSurv), order: 4, stepped: true,
      borderColor: '#c8412a', borderWidth: 1.4, pointRadius: 0, fill: false
    }]
  },
  options: {
    layout: {padding: {left: 0, top: 4, right: 14, bottom: 0}},
    scales: {
      x: {type: 'linear', min: 0, max: 3000,
        afterFit: function (s) { s.height = 20; },
        ticks: {stepSize: 250, includeBounds: false, font: axisFont, color: '#555', padding: 2, maxRotation: 0, autoSkip: false,
          callback: function (v) { return v % 500 === 0 ? String(v) : ''; }},
        grid: {drawOnChartArea: false, tickLength: 4, tickColor: '#666'},
        border: {color: '#666'}},
      y: {type: 'linear', min: 0, max: 1.02,
        afterFit: function (s) { s.width = 26; },
        ticks: {stepSize: 0.1, includeBounds: false, font: axisFont, color: '#555', padding: 2, autoSkip: false,
          callback: function (v) { var k = Math.round(v * 10); return k % 2 === 0 ? String(k / 10) : ''; }},
        grid: {drawOnChartArea: false, tickLength: 4, tickColor: '#666'},
        border: {color: '#666'}}
    }
  }
});
label('Survival propability', 463, 446, 13, {rot: true});
box(496, 476, 23, 2, {background: '#c8412a'});
label('High TRAF6', 522, 477, 10.5, {align: 'l'});
box(496, 493, 23, 2, {background: '#2f7cc0'});
label('Low TRAF6', 522, 494, 10.5, {align: 'l'});
label('P = 0.05', 501, 513, 10.5, {align: 'l'});
label('Time (Days)', 680, 565, 14, {align: 'l'});
label('Survival analysis - TRAF6', 695, 580, 15, {align: 'r'});
label('(Human protein Atlas)', 742, 596, 10, {align: 'r'});

// ---------- (d) ----------
label('(d)', 597, 646, 14, {bold: true});
var alterLabels = {
  id: 'alterLabels',
  afterDatasetsDraw: function (chart) {
    var c = chart.ctx, xs = chart.scales.x, ys = chart.scales.y;
    var marks = [[1, amplification[0], 'Amplification'], [2, amplification[1], 'Amplification'],
      [3, adenoDeletion + adenoMutation / 2, 'Mutation'], [3, adenoDeletion / 2, 'Deletion']];
    c.save();
    c.strokeStyle = '#000'; c.fillStyle = '#000'; c.lineWidth = 1;
    c.font = "8px 'Liberation Serif', serif";
    c.textBaseline = 'middle';
    marks.forEach(function (m) {
      var x0 = xs.getPixelForValue(m[0]) + 15, y = Math.round(ys.getPixelForValue(m[1])) + 0.5;
      c.beginPath(); c.moveTo(x0, y); c.lineTo(x0 + 10, y); c.stroke();
      c.fillText(m[2], x0 + 13, y);
    });
    c.restore();
  }
};
var ctxD = canvasAt(512, 648, 238, 245);
new Chart(ctxD, {
  type: 'bar',
  data: {
    datasets: [{
      data: [{x: 1, y: amplification[0]}, {x: 2, y: amplification[1]}], stack: 's',
      backgroundColor: ['#ffffff', '#000000'], borderColor: '#000', borderWidth: 1.5, barThickness: 29
    }, {
      data: [{x: 3, y: adenoDeletion}], stack: 's',
      backgroundColor: '#8a8a8a', borderColor: '#000', borderWidth: 1.5, barThickness: 29
    }, {
      data: [{x: 3, y: adenoMutation}], stack: 's',
      backgroundColor: '#d4d4c6', borderColor: '#000', borderWidth: 1.5, barThickness: 29
    }]
  },
  options: {
    layout: {padding: {left: 0, top: 4, right: 90, bottom: 0}},
    scales: {
      x: {type: 'linear', min: 0.27, max: 3.71, stacked: true, offset: false,
        afterFit: function (s) { s.height = 10; },
        ticks: {stepSize: 1, includeBounds: false, display: false},
        grid: {offset: false, drawOnChartArea: false, tickLength: 6, tickColor: '#000', tickWidth: 1.5},
        border: {color: '#000', width: 1.5}},
      y: {type: 'linear', min: 0, max: 14.8, stacked: true,
        afterFit: function (s) { s.width = 30; },
        ticks: {stepSize: 2, includeBounds: false, color: '#111', padding: 1,
          font: {size: 9, family: "'Liberation Sans', Arial, sans-serif"},
          callback: function (v) { return v === 0 ? '' : v + '%'; }},
        grid: {drawOnChartArea: false, tickLength: 5, tickColor: '#000', tickWidth: 1.5},
        border: {color: '#000', width: 1.5}}
    }
  },
  plugins: [alterLabels]
});
label('Alteration Frequency (%)', 510, 766, 12, {rot: true});

var legendRows = [
  {fill: '#ffffff', y: 913, lines: ['Prostate Neuroendocrine Carcinoma', 'N = 44 cases', 'Alteration frequency = 13.64%'],
    src: '(Trento/Cornell/Broad., Nat Med 2016)', srcX: 622, srcY: 953},
  {fill: '#000000', y: 974, lines: ['Castration-Resistant Prostate cancer', 'N = 70 cases', 'Alteration frequency = 12.86%'],
    src: '(TCGA, Provisional)', srcX: 642, srcY: 1014},
  {fill: '#8a8a8a', y: 1033, lines: ['Prostate Adenocarcinoma', 'N = 649 cases', 'Alteration frequency = 1.39%'],
    src: '(TCGA, Provisional)', srcX: 642, srcY: 1080}
];
legendRows.forEach(function (r) {
  var s = box(509, r.y, 14, 14, {background: r.fill});
  s.className = 'sw';
  r.lines.forEach(function (ln, i) { label(ln, 530, r.y + 3.5 + i * 12, 10.5, {align: 'l'}); });
  label(r.src, r.srcX, r.srcY, 8, {align: 'l'});
});
</script>
</body>
</html>
